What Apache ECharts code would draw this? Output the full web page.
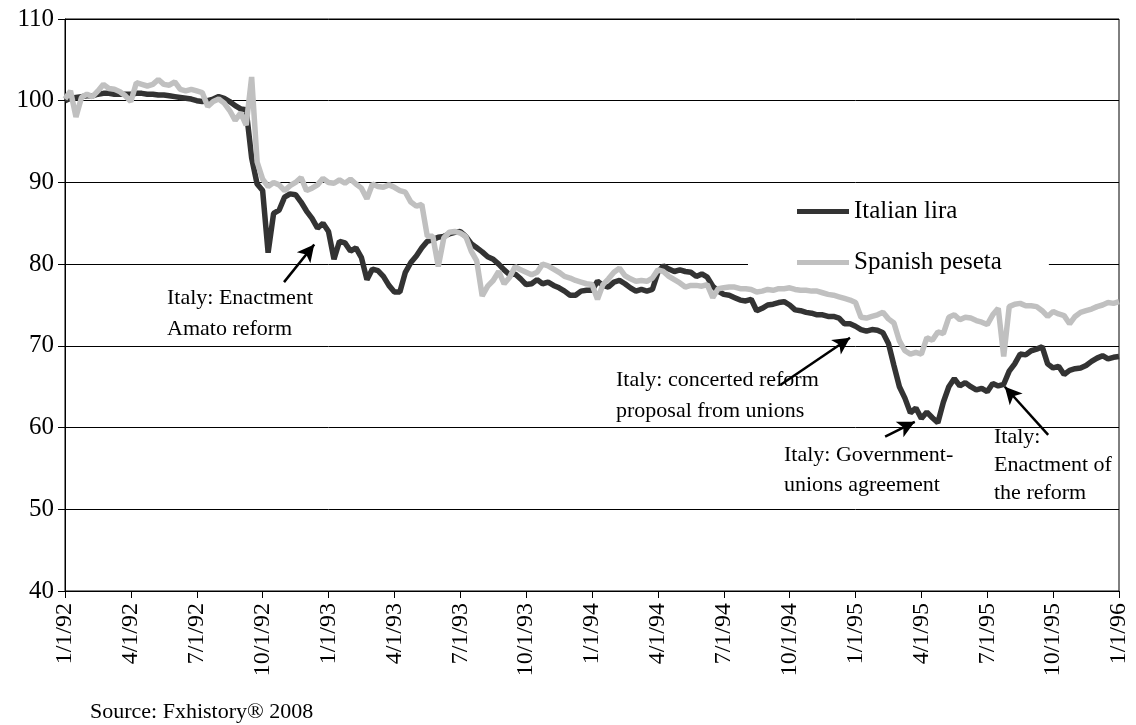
<!DOCTYPE html>
<html>
<head>
<meta charset="utf-8">
<script src="https://cdn.jsdelivr.net/npm/echarts@6/dist/echarts.min.js"></script>
<style>
html,body{margin:0;padding:0;background:#fff;}
#chart{width:1136px;height:725px;}
</style>
</head>
<body>
<div id="chart"></div>
<script>
// Quarter tick labels (12 weekly observations per quarter)
const tickLabels = ['1/1/92','4/1/92','7/1/92','10/1/92','1/1/93','4/1/93','7/1/93','10/1/93','1/1/94','4/1/94','7/1/94','10/1/94','1/1/95','4/1/95','7/1/95','10/1/95','1/1/96'];
const seriesNames = ['Italian lira', 'Spanish peseta'];

// Index (1/1/92 = 100), weekly readings
const italianLira = [
  100.0,100.3,100.4,100.5,100.6,100.6,100.8,100.9,100.9,100.8,100.8,100.8,
  100.8,100.9,100.9,100.8,100.8,100.7,100.7,100.6,100.5,100.4,100.3,100.2,
  100.0,99.9,100.0,100.2,100.5,100.3,99.9,99.4,99.0,98.9,93.0,89.8,
  89.0,81.4,86.2,86.6,88.2,88.6,88.5,87.6,86.5,85.6,84.4,85.0,
  84.0,80.6,82.8,82.6,81.6,82.0,80.8,78.1,79.4,79.2,78.5,77.4,
  76.6,76.6,79.0,80.2,81.0,82.0,82.8,83.0,83.3,83.4,83.7,83.9,
  84.0,83.4,82.5,82.0,81.5,80.9,80.6,80.0,79.3,78.7,78.8,78.2,
  77.5,77.6,78.1,77.6,77.8,77.4,77.1,76.7,76.2,76.2,76.7,76.8,
  76.8,77.9,77.4,77.2,77.8,78.0,77.6,77.1,76.7,76.9,76.7,76.9,
  79.0,79.8,79.4,79.1,79.3,79.1,79.0,78.5,78.8,78.4,77.3,76.7,
  76.3,76.2,75.9,75.6,75.5,75.7,74.3,74.6,75.0,75.1,75.3,75.4,
  75.0,74.4,74.3,74.1,74.0,73.8,73.8,73.6,73.6,73.4,72.7,72.7,
  72.4,72.0,71.8,72.0,71.9,71.6,70.3,67.6,65.0,63.6,61.8,62.4,
  61.1,61.9,61.2,60.6,63.1,65.0,66.0,65.1,65.5,65.0,64.6,64.8,
  64.4,65.4,65.1,65.3,66.9,67.8,69.0,68.9,69.4,69.6,69.9,67.8,
  67.3,67.5,66.5,67.0,67.2,67.3,67.6,68.1,68.5,68.8,68.4,68.6,
  68.7
];
const spanishPeseta = [
  100.2,101.2,98.0,100.4,100.8,100.5,101.2,102.0,101.5,101.4,101.1,100.6,
  99.9,102.2,102.0,101.8,102.0,102.6,102.0,101.9,102.3,101.4,101.2,101.4,
  101.2,101.0,99.3,99.9,100.2,99.7,98.8,97.6,98.5,97.0,102.9,92.5,
  90.4,89.5,90.0,89.7,89.0,89.6,90.0,90.6,89.0,89.3,89.7,90.5,
  90.0,89.9,90.3,89.9,90.4,89.8,89.3,88.0,89.8,89.5,89.4,89.7,
  89.4,89.0,88.8,87.6,87.1,87.3,83.4,83.4,79.7,83.2,83.9,84.0,
  83.8,83.4,81.6,80.4,76.1,77.3,78.0,79.1,77.6,78.4,79.7,79.3,
  79.0,78.7,79.0,80.0,79.8,79.4,79.0,78.5,78.3,78.0,77.8,77.6,
  77.5,75.7,77.5,78.2,79.0,79.5,78.6,78.2,77.9,78.0,77.9,78.3,
  79.3,79.1,78.5,78.1,77.7,77.2,77.4,77.4,77.3,77.5,75.9,77.0,
  77.1,77.2,77.2,77.0,77.0,76.9,76.6,76.7,76.9,76.8,77.0,77.0,
  77.1,76.9,76.8,76.8,76.7,76.7,76.5,76.3,76.2,76.0,75.8,75.6,
  75.3,73.5,73.4,73.6,73.8,74.1,73.3,72.8,70.6,69.4,69.0,69.2,
  69.0,71.0,70.7,71.7,71.5,73.5,73.8,73.2,73.5,73.4,73.1,72.9,
  72.6,73.8,74.6,68.7,74.8,75.1,75.2,74.9,74.9,74.8,74.3,73.6,
  74.2,73.9,73.7,72.7,73.6,74.1,74.3,74.5,74.8,75.0,75.3,75.2,
  75.4
];

const annotations = [
  'Italy: Enactment\nAmato reform',
  'Italy: concerted reform\nproposal from unions',
  'Italy: Government-\nunions agreement',
  'Italy:\nEnactment of\nthe reform'
];
const sourceText = 'Source: Fxhistory\u00AE 2008';

const STEPS_PER_QUARTER = 12;
const toPairs = arr => arr.map((v, i) => [i, v]);
const SERIF = '"Liberation Serif", "Times New Roman", serif';

const chart = echarts.init(document.getElementById('chart'), null, {renderer: 'canvas'});

const arrowLine = (a, b) => [{coord: a}, {coord: b}];

const option = {
  backgroundColor: '#ffffff',
  animation: false,
  grid: {
    left: 65, right: 17, top: 19, bottom: 134,
    show: true, borderColor: '#000', borderWidth: 1, backgroundColor: 'transparent'
  },
  xAxis: {
    type: 'value',
    min: 0,
    max: (tickLabels.length - 1) * STEPS_PER_QUARTER,
    interval: STEPS_PER_QUARTER,
    axisLine: {show: true, lineStyle: {color: '#000', width: 1}},
    axisTick: {show: true, length: 7, lineStyle: {color: '#000'}},
    splitLine: {show: false},
    axisLabel: {
      rotate: 90,
      margin: 12,
      color: '#000',
      fontFamily: SERIF,
      fontSize: 24,
      formatter: v => tickLabels[Math.round(v / STEPS_PER_QUARTER)] || ''
    }
  },
  yAxis: {
    type: 'value',
    min: 40, max: 110, interval: 10,
    axisLine: {show: true, lineStyle: {color: '#000', width: 1}},
    axisTick: {show: true, length: 7, lineStyle: {color: '#000'}},
    splitLine: {show: true, lineStyle: {color: '#000', width: 1}},
    axisLabel: {color: '#000', fontFamily: SERIF, fontSize: 25, margin: 11}
  },
  legend: {
    orient: 'vertical',
    left: 748, top: 190,
    padding: [9, 47, 10, 49],
    backgroundColor: '#ffffff',
    itemGap: 26,
    itemWidth: 52, itemHeight: 5,
    icon: 'rect',
    textStyle: {color: '#000', fontFamily: SERIF, fontSize: 25, padding: [0, 0, 0, 0]},
    data: seriesNames
  },
  series: [
    {
      name: seriesNames[0],
      type: 'line',
      data: toPairs(italianLira),
      showSymbol: false,
      color: '#333333',
      lineStyle: {color: '#333333', width: 5.5},
      z: 2,
      markLine: {
        silent: true,
        symbol: ['none', 'arrow'],
        symbolSize: [13, 17],
        label: {show: false},
        lineStyle: {color: '#000', width: 2.5, type: 'solid'},
        data: [
          arrowLine([39.9, 77.8], [45.4, 82.4]),
          arrowLine([130.3, 65.2], [143.0, 71.0]),
          arrowLine([149.4, 58.9], [154.8, 60.7]),
          arrowLine([179.1, 59.1], [171.2, 65.0])
        ]
      }
    },
    {
      name: seriesNames[1],
      type: 'line',
      data: toPairs(spanishPeseta),
      showSymbol: false,
      color: '#c0c0c0',
      lineStyle: {color: '#c0c0c0', width: 5.5},
      z: 3
    }
  ],
  graphic: [
    {type: 'text', left: 167, top: 283, style: {text: annotations[0], font: '22px ' + SERIF, fill: '#000', lineHeight: 31}},
    {type: 'text', left: 616, top: 365, style: {text: annotations[1], font: '22px ' + SERIF, fill: '#000', lineHeight: 31}},
    {type: 'text', left: 784, top: 440, style: {text: annotations[2], font: '22px ' + SERIF, fill: '#000', lineHeight: 30}},
    {type: 'text', left: 994, top: 423, style: {text: annotations[3], font: '22px ' + SERIF, fill: '#000', lineHeight: 28}},
    {type: 'text', left: 90, top: 701, style: {text: sourceText, font: '22px ' + SERIF, fill: '#000'}}
  ]
};
chart.setOption(option);
</script>
</body>
</html>
